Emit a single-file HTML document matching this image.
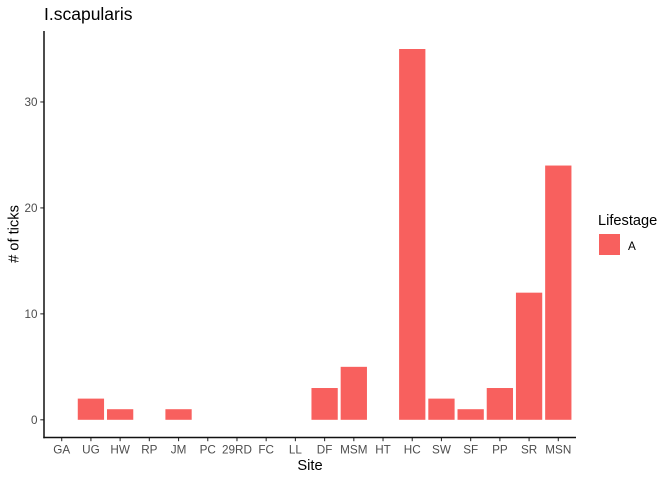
<!DOCTYPE html>
<html>
<head>
<meta charset="utf-8">
<style>
html,body{margin:0;padding:0;background:#fff;}
svg{display:block;font-family:"Liberation Sans",Arial,sans-serif;}
</style>
</head>
<body>
<svg id="chart" width="672" height="480" viewBox="0 0 672 480" xmlns="http://www.w3.org/2000/svg"></svg>
<script>
const categories = ["GA","UG","HW","RP","JM","PC","29RD","FC","LL","DF","MSM","HT","HC","SW","SF","PP","SR","MSN"];
const tickCounts = [0,2,1,0,1,0,0,0,0,3,5,0,35,2,1,3,12,24];
const yTicks = [0,10,20,30];
const chartTitle = "I.scapularis";
const legendEntries = ["A"];

const NS = "http://www.w3.org/2000/svg";
const svg = document.getElementById("chart");
const fill = "#F8605E";
const barFraction = 0.9;

function xScale(i){ return 61.7 + i * (558.3 - 61.7) / 17; }
function yScale(v){ return 419.8 - v * (419.8 - 49) / 35; }

function make(tag, attrs, text){
  const el = document.createElementNS(NS, tag);
  for (const k in attrs) el.setAttribute(k, attrs[k]);
  if (text !== undefined) el.textContent = text;
  svg.appendChild(el);
  return el;
}

const step = (558.3 - 61.7) / 17;
categories.forEach(function(c, i){
  if (tickCounts[i] > 0) {
    const bar = make("rect", {x: xScale(i) - step * barFraction / 2, y: yScale(tickCounts[i]), width: step * barFraction, height: yScale(0) - yScale(tickCounts[i]), fill: fill});
    
    
  }
  const tick = make("line", {x1: xScale(i), x2: xScale(i), y1: 437.5, y2: 441.2, stroke: "#333", "stroke-width": 1.1});
  
  
  const label = make("text", {x: xScale(i), y: 453.5, "text-anchor": "middle", "font-size": 11.7, fill: "#4D4D4D"}, c);
  
  
});

yTicks.forEach(function(v){
  const tick = make("line", {x1: 40.3, x2: 44, y1: yScale(v), y2: yScale(v), stroke: "#333", "stroke-width": 1.1});
  
  
  const label = make("text", {x: 37.5, y: yScale(v) + 4.2, "text-anchor": "end", "font-size": 11.7, fill: "#4D4D4D"}, String(v));
  
  
});

const yAxis = make("line", {x1: 44, x2: 44, y1: 31, y2: 438.2, stroke: "#111", "stroke-width": 1.5});


const xAxis = make("line", {x1: 43.3, x2: 576, y1: 437.5, y2: 437.5, stroke: "#111", "stroke-width": 1.5});



const title = make("text", {x: 44, y: 20, "font-size": 17.5, fill: "#000"}, chartTitle);


const xTitle = make("text", {x: 310, y: 470, "text-anchor": "middle", "font-size": 14.67, fill: "#000"}, "Site");


const yTitle = make("text", {x: 0, y: 0, transform: "translate(18.5,234) rotate(-90)", "text-anchor": "middle", "font-size": 14.67, fill: "#000"}, "# of ticks");



const legendTitle = make("text", {x: 598, y: 225, "font-size": 14.6, fill: "#000"}, "Lifestage");


legendEntries.forEach(function(name, i){
  const key = make("rect", {x: 599, y: 234 + i * 22, width: 21, height: 21, fill: fill});
  
  
  const lab = make("text", {x: 628, y: 250.2 + i * 22, "font-size": 11.7, fill: "#000"}, name);
  
  
});
</script>
</body>
</html>
